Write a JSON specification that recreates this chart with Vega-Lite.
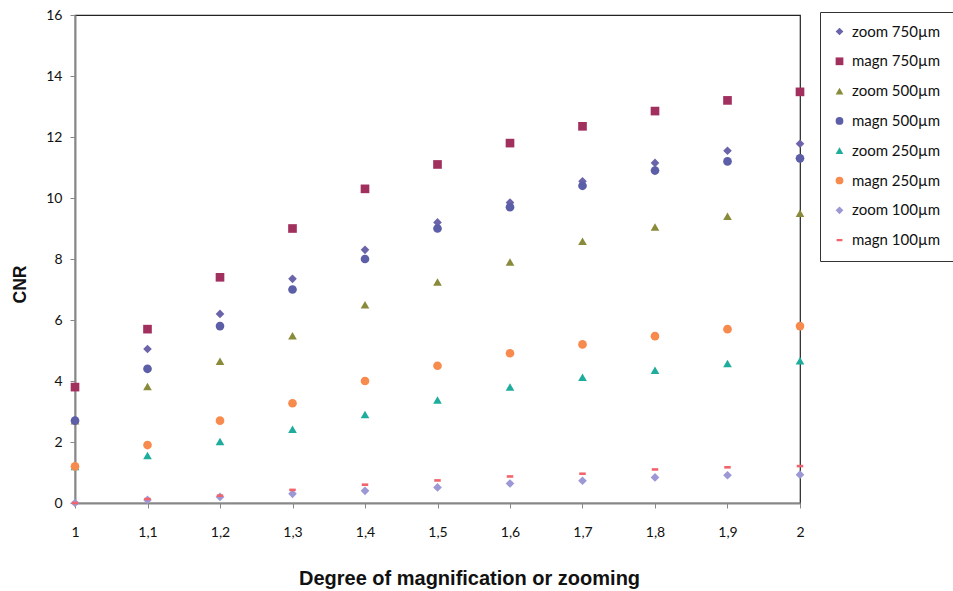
{
  "$schema": "https://vega.github.io/schema/vega-lite/v6.json",
  "autosize": "none",
  "width": 725,
  "height": 488,
  "padding": {"left": 75, "top": 15, "right": 153, "bottom": 88},
  "background": "white",
  "config": {
    "view": {"stroke": "#222", "strokeWidth": 1.2},
    "axis": {"grid": false, "domainColor": "#888", "domainWidth": 2, "tickColor": "#888", "tickSize": 5, "labelFont": "Lato", "labelFontSize": 14, "labelColor": "#111", "labelFlush": false, "titleFont": "Liberation Sans", "titleFontWeight": "bold", "titleFontSize": 17.5, "titleColor": "#111"}
  },
  "data": {
    "values": [
      {"x": 1.0, "v": 2.7, "s": "zoom 750µm"}, {"x": 1.1, "v": 5.05, "s": "zoom 750µm"}, {"x": 1.2, "v": 6.2, "s": "zoom 750µm"}, {"x": 1.3, "v": 7.35, "s": "zoom 750µm"}, {"x": 1.4, "v": 8.3, "s": "zoom 750µm"}, {"x": 1.5, "v": 9.2, "s": "zoom 750µm"}, {"x": 1.6, "v": 9.85, "s": "zoom 750µm"}, {"x": 1.7, "v": 10.55, "s": "zoom 750µm"}, {"x": 1.8, "v": 11.15, "s": "zoom 750µm"}, {"x": 1.9, "v": 11.55, "s": "zoom 750µm"}, {"x": 2.0, "v": 11.78, "s": "zoom 750µm"},
      {"x": 1.0, "v": 3.8, "s": "magn 750µm"}, {"x": 1.1, "v": 5.7, "s": "magn 750µm"}, {"x": 1.2, "v": 7.4, "s": "magn 750µm"}, {"x": 1.3, "v": 9.0, "s": "magn 750µm"}, {"x": 1.4, "v": 10.3, "s": "magn 750µm"}, {"x": 1.5, "v": 11.1, "s": "magn 750µm"}, {"x": 1.6, "v": 11.8, "s": "magn 750µm"}, {"x": 1.7, "v": 12.35, "s": "magn 750µm"}, {"x": 1.8, "v": 12.85, "s": "magn 750µm"}, {"x": 1.9, "v": 13.2, "s": "magn 750µm"}, {"x": 2.0, "v": 13.48, "s": "magn 750µm"},
      {"x": 1.0, "v": 2.7, "s": "zoom 500µm"}, {"x": 1.1, "v": 3.82, "s": "zoom 500µm"}, {"x": 1.2, "v": 4.65, "s": "zoom 500µm"}, {"x": 1.3, "v": 5.48, "s": "zoom 500µm"}, {"x": 1.4, "v": 6.5, "s": "zoom 500µm"}, {"x": 1.5, "v": 7.25, "s": "zoom 500µm"}, {"x": 1.6, "v": 7.9, "s": "zoom 500µm"}, {"x": 1.7, "v": 8.58, "s": "zoom 500µm"}, {"x": 1.8, "v": 9.05, "s": "zoom 500µm"}, {"x": 1.9, "v": 9.4, "s": "zoom 500µm"}, {"x": 2.0, "v": 9.5, "s": "zoom 500µm"},
      {"x": 1.0, "v": 2.7, "s": "magn 500µm"}, {"x": 1.1, "v": 4.4, "s": "magn 500µm"}, {"x": 1.2, "v": 5.8, "s": "magn 500µm"}, {"x": 1.3, "v": 7.0, "s": "magn 500µm"}, {"x": 1.4, "v": 8.0, "s": "magn 500µm"}, {"x": 1.5, "v": 9.0, "s": "magn 500µm"}, {"x": 1.6, "v": 9.7, "s": "magn 500µm"}, {"x": 1.7, "v": 10.4, "s": "magn 500µm"}, {"x": 1.8, "v": 10.9, "s": "magn 500µm"}, {"x": 1.9, "v": 11.2, "s": "magn 500µm"}, {"x": 2.0, "v": 11.3, "s": "magn 500µm"},
      {"x": 1.0, "v": 1.2, "s": "zoom 250µm"}, {"x": 1.1, "v": 1.56, "s": "zoom 250µm"}, {"x": 1.2, "v": 2.02, "s": "zoom 250µm"}, {"x": 1.3, "v": 2.42, "s": "zoom 250µm"}, {"x": 1.4, "v": 2.9, "s": "zoom 250µm"}, {"x": 1.5, "v": 3.38, "s": "zoom 250µm"}, {"x": 1.6, "v": 3.8, "s": "zoom 250µm"}, {"x": 1.7, "v": 4.12, "s": "zoom 250µm"}, {"x": 1.8, "v": 4.35, "s": "zoom 250µm"}, {"x": 1.9, "v": 4.57, "s": "zoom 250µm"}, {"x": 2.0, "v": 4.66, "s": "zoom 250µm"},
      {"x": 1.0, "v": 1.2, "s": "magn 250µm"}, {"x": 1.1, "v": 1.9, "s": "magn 250µm"}, {"x": 1.2, "v": 2.7, "s": "magn 250µm"}, {"x": 1.3, "v": 3.27, "s": "magn 250µm"}, {"x": 1.4, "v": 4.0, "s": "magn 250µm"}, {"x": 1.5, "v": 4.5, "s": "magn 250µm"}, {"x": 1.6, "v": 4.91, "s": "magn 250µm"}, {"x": 1.7, "v": 5.2, "s": "magn 250µm"}, {"x": 1.8, "v": 5.47, "s": "magn 250µm"}, {"x": 1.9, "v": 5.7, "s": "magn 250µm"}, {"x": 2.0, "v": 5.8, "s": "magn 250µm"},
      {"x": 1.0, "v": 0.0, "s": "zoom 100µm"}, {"x": 1.1, "v": 0.1, "s": "zoom 100µm"}, {"x": 1.2, "v": 0.2, "s": "zoom 100µm"}, {"x": 1.3, "v": 0.3, "s": "zoom 100µm"}, {"x": 1.4, "v": 0.4, "s": "zoom 100µm"}, {"x": 1.5, "v": 0.51, "s": "zoom 100µm"}, {"x": 1.6, "v": 0.64, "s": "zoom 100µm"}, {"x": 1.7, "v": 0.73, "s": "zoom 100µm"}, {"x": 1.8, "v": 0.84, "s": "zoom 100µm"}, {"x": 1.9, "v": 0.91, "s": "zoom 100µm"}, {"x": 2.0, "v": 0.93, "s": "zoom 100µm"},
      {"x": 1.0, "v": 0.0, "s": "magn 100µm"}, {"x": 1.1, "v": 0.13, "s": "magn 100µm"}, {"x": 1.2, "v": 0.24, "s": "magn 100µm"}, {"x": 1.3, "v": 0.43, "s": "magn 100µm"}, {"x": 1.4, "v": 0.6, "s": "magn 100µm"}, {"x": 1.5, "v": 0.74, "s": "magn 100µm"}, {"x": 1.6, "v": 0.87, "s": "magn 100µm"}, {"x": 1.7, "v": 0.96, "s": "magn 100µm"}, {"x": 1.8, "v": 1.1, "s": "magn 100µm"}, {"x": 1.9, "v": 1.17, "s": "magn 100µm"}, {"x": 2.0, "v": 1.21, "s": "magn 100µm"}
    ]
  },
  "mark": {"type": "point", "filled": true, "opacity": 1, "size": 75},
  "encoding": {
    "x": {
      "field": "x", "type": "quantitative",
      "scale": {"domain": [1, 2], "nice": false, "zero": false},
      "axis": {"values": [1, 1.1, 1.2, 1.3, 1.4, 1.5, 1.6, 1.7, 1.8, 1.9, 2], "labelExpr": "replace(format(datum.value, '.1~f'), '.', ',')", "labelPadding": 17, "title": "Degree of magnification or zooming", "titleFontSize": 20, "titleX": 394, "titleY": 65}
    },
    "y": {
      "field": "v", "type": "quantitative",
      "scale": {"domain": [0, 16], "nice": false},
      "axis": {"values": [0, 2, 4, 6, 8, 10, 12, 14, 16], "labelPadding": 8, "title": "CNR", "titleX": -46, "titleY": 269}
    },
    "color": {
      "field": "s", "type": "nominal", "sort": null,
      "scale": {
        "domain": ["zoom 750µm", "magn 750µm", "zoom 500µm", "magn 500µm", "zoom 250µm", "magn 250µm", "zoom 100µm", "magn 100µm"],
        "range": ["#6B64AA", "#A1305F", "#8A8A3B", "#5C5EA8", "#1EAD9C", "#F68B4D", "#9C98D6", "#F2646B"]
      },
      "legend": {
        "title": null, "orient": "none", "legendX": 745, "legendY": -3,
        "strokeColor": "#333", "fillColor": "white", "padding": 12,
        "labelFont": "Lato", "labelFontSize": 15, "labelColor": "#111",
        "rowPadding": 13.8, "symbolSize": 60, "labelOffset": 5
      }
    },
    "shape": {
      "field": "s", "type": "nominal",
      "scale": {
        "domain": ["zoom 750µm", "magn 750µm", "zoom 500µm", "magn 500µm", "zoom 250µm", "magn 250µm", "zoom 100µm", "magn 100µm"],
        "range": ["diamond", "square", "triangle-up", "circle", "triangle-up", "circle", "diamond", "M-0.75,-0.3L0.75,-0.3L0.75,0.3L-0.75,0.3Z"]
      }
    }
  }
}
